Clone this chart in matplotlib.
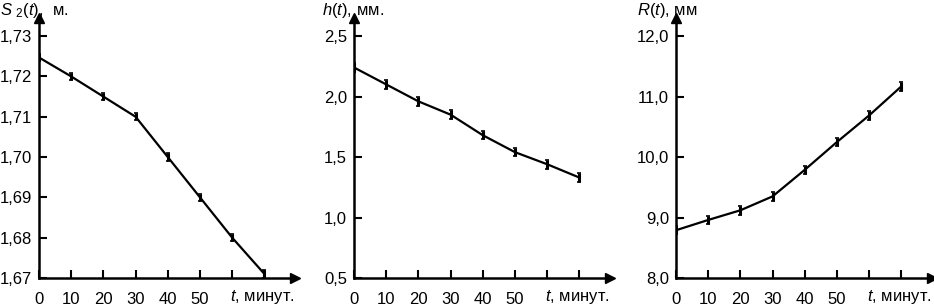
import matplotlib.pyplot as plt

plt.rcParams['font.family'] = ['Liberation Sans', 'DejaVu Sans']
plt.rcParams['mathtext.fontset'] = 'custom'
plt.rcParams['mathtext.it'] = 'Liberation Sans:italic'
plt.rcParams['mathtext.rm'] = 'Liberation Sans'

t = [0, 10, 20, 30, 40, 50, 60, 70]
x_tick_labels = ['0', '10', '20', '30', '40', '50', '', '']

# S2(t), м
s2 = [1.7247, 1.720, 1.715, 1.710, 1.700, 1.690, 1.680, 1.671]
s2_err = 0.0009
s2_ticks = [1.67, 1.68, 1.69, 1.70, 1.71, 1.72, 1.73]
s2_labels = ['1,67', '1,68', '1,69', '1,70', '1,71', '1,72', '1,73']

# h(t), мм
h = [2.24, 2.10, 1.96, 1.85, 1.68, 1.54, 1.44, 1.33]
h_err = 0.035
h_ticks = [0.5, 1.0, 1.5, 2.0, 2.5]
h_labels = ['0,5', '1,0', '1,5', '2,0', '2,5']

# R(t), мм
r = [8.79, 8.96, 9.12, 9.35, 9.79, 10.25, 10.69, 11.17]
r_err = 0.07
r_ticks = [8.0, 9.0, 10.0, 11.0, 12.0]
r_labels = ['8,0', '9,0', '10,0', '11,0', '12,0']

fig = plt.figure(figsize=(9.34, 3.08), dpi=100)

panels = [
    (39, s2, s2_err, s2_ticks, s2_labels, (1.67, 1.7345), r'$S$ $_{\it 2}$$\it{(t)}$,  м.', 0),
    (354, h, h_err, h_ticks, h_labels, (0.5, 2.649), r'$h(t)$, мм.', 322),
    (676, r, r_err, r_ticks, r_labels, (8.0, 12.3), r'$R(t)$, мм', 637),
]

for left, vals, err, yt, yl, ylim, ylab, lab_x in panels:
    ax = fig.add_axes([left / 934, 30 / 308, 256 / 934, 260 / 308])
    ax.errorbar(t, vals, yerr=err, color='black', lw=1.6, elinewidth=2.2,
                capsize=1.5, capthick=1.2)
    ax.set_xlim(0, 79.5)
    ax.set_ylim(*ylim)
    ax.set_xticks(t)
    ax.set_xticklabels(x_tick_labels)
    ax.set_yticks(yt)
    ax.set_yticklabels(yl)
    ax.tick_params(direction='in', length=6, width=1.5, labelsize=12)
    ax.tick_params(axis='x', pad=10)
    ax.tick_params(axis='y', pad=5)
    for side in ['top', 'right']:
        ax.spines[side].set_visible(False)
    for side in ['left', 'bottom']:
        ax.spines[side].set_linewidth(1.8)
    # стрелки на концах осей
    ax.plot(1, 0, '>', color='black', ms=7, transform=ax.transAxes, clip_on=False)
    ax.plot(0, 1, '^', color='black', ms=7, transform=ax.transAxes, clip_on=False)
    fig.text(lab_x / 934, 1 - 10 / 308, ylab, fontsize=12, va='center', ha='left')
    ax.text(1.0, -0.075, r'$t$, минут.', fontsize=12, transform=ax.transAxes,
            ha='right', va='center')

fig.savefig('out.png', dpi=100)
